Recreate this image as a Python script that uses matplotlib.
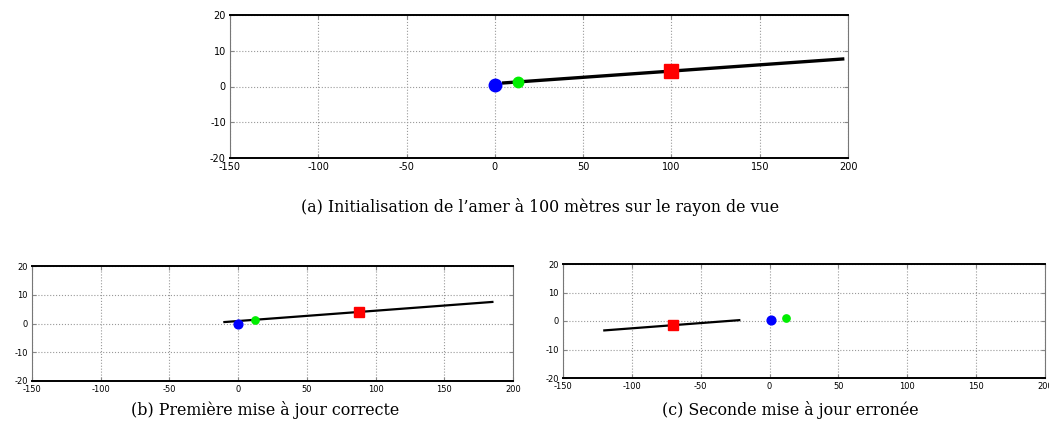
import numpy as np
import matplotlib.pyplot as plt

plt.rcParams['axes.unicode_minus'] = False

# rayon de vue (x, y) pour chaque cas
ray_a_x = [5, 197]
ray_a_y = [1.0, 7.7]
ray_b_x = [-10, 185]
ray_b_y = [0.5, 7.5]
ray_c_x = [-120, -22]
ray_c_y = [-3.3, 0.3]

# robot (bleu), camera (vert), amer (rouge)
robot = [(0, 0.3), (0, 0), (1, 0.2)]
camera = [(13, 1.3), (12, 1.2), (12, 1.2)]
amer = [(100, 4.4), (88, 4.0), (-70, -1.5)]

xticks = [-150, -100, -50, 0, 50, 100, 150, 200]
yticks = [-20, -10, 0, 10, 20]

captions = ["(a) Initialisation de l\u2019amer à 100 mètres sur le rayon de vue",
            "(b) Première mise à jour correcte",
            "(c) Seconde mise à jour erronée"]

fig = plt.figure(figsize=(10.49, 4.38), dpi=100)
W, H = 1049, 438
# boxes in pixels: left, top, right, bottom
boxes = [(230, 15, 848, 158), (32, 266, 513, 381), (563, 264, 1045, 378)]
rays = [(ray_a_x, ray_a_y), (ray_b_x, ray_b_y), (ray_c_x, ray_c_y)]
big = [True, False, False]

for i in range(3):
    l, t, r, b = boxes[i]
    ax = fig.add_axes([l / W, 1 - b / H, (r - l) / W, (b - t) / H])
    lw = 2.4 if big[i] else 1.6
    ax.plot(rays[i][0], rays[i][1], color='black', lw=lw, zorder=2)
    s = 1.0 if big[i] else 0.7
    ax.plot(*robot[i], 'o', color='#0000ff', ms=9 * s, zorder=3)
    ax.plot(*camera[i], 'o', color='#00ee00', ms=7.5 * s, zorder=3)
    ax.plot(*amer[i], 's', color='#ff0000', ms=10 * s, zorder=3)
    ax.set_xlim(-150, 200)
    ax.set_ylim(-20, 20)
    ax.set_xticks(xticks)
    ax.set_yticks(yticks)
    fs = 7 if big[i] else 6
    ax.tick_params(direction='in', length=3, color='#888888', labelsize=fs,
                   top=True, right=True, pad=3)
    ax.grid(True, linestyle=':', color='#999999', lw=0.8)
    for side in ['top', 'bottom']:
        ax.spines[side].set_linewidth(1.4)
        ax.spines[side].set_color('black')
    for side in ['left', 'right']:
        ax.spines[side].set_linewidth(0.8)
        ax.spines[side].set_color('#777777')

fig.text(540 / W, 1 - 207 / H, captions[0], ha='center', va='center',
         fontsize=11.4, family='DejaVu Serif')
fig.text(265 / W, 1 - 410 / H, captions[1], ha='center', va='center',
         fontsize=11.4, family='DejaVu Serif')
fig.text(790 / W, 1 - 410 / H, captions[2], ha='center', va='center',
         fontsize=11.4, family='DejaVu Serif')

plt.savefig('out.png', dpi=100)
